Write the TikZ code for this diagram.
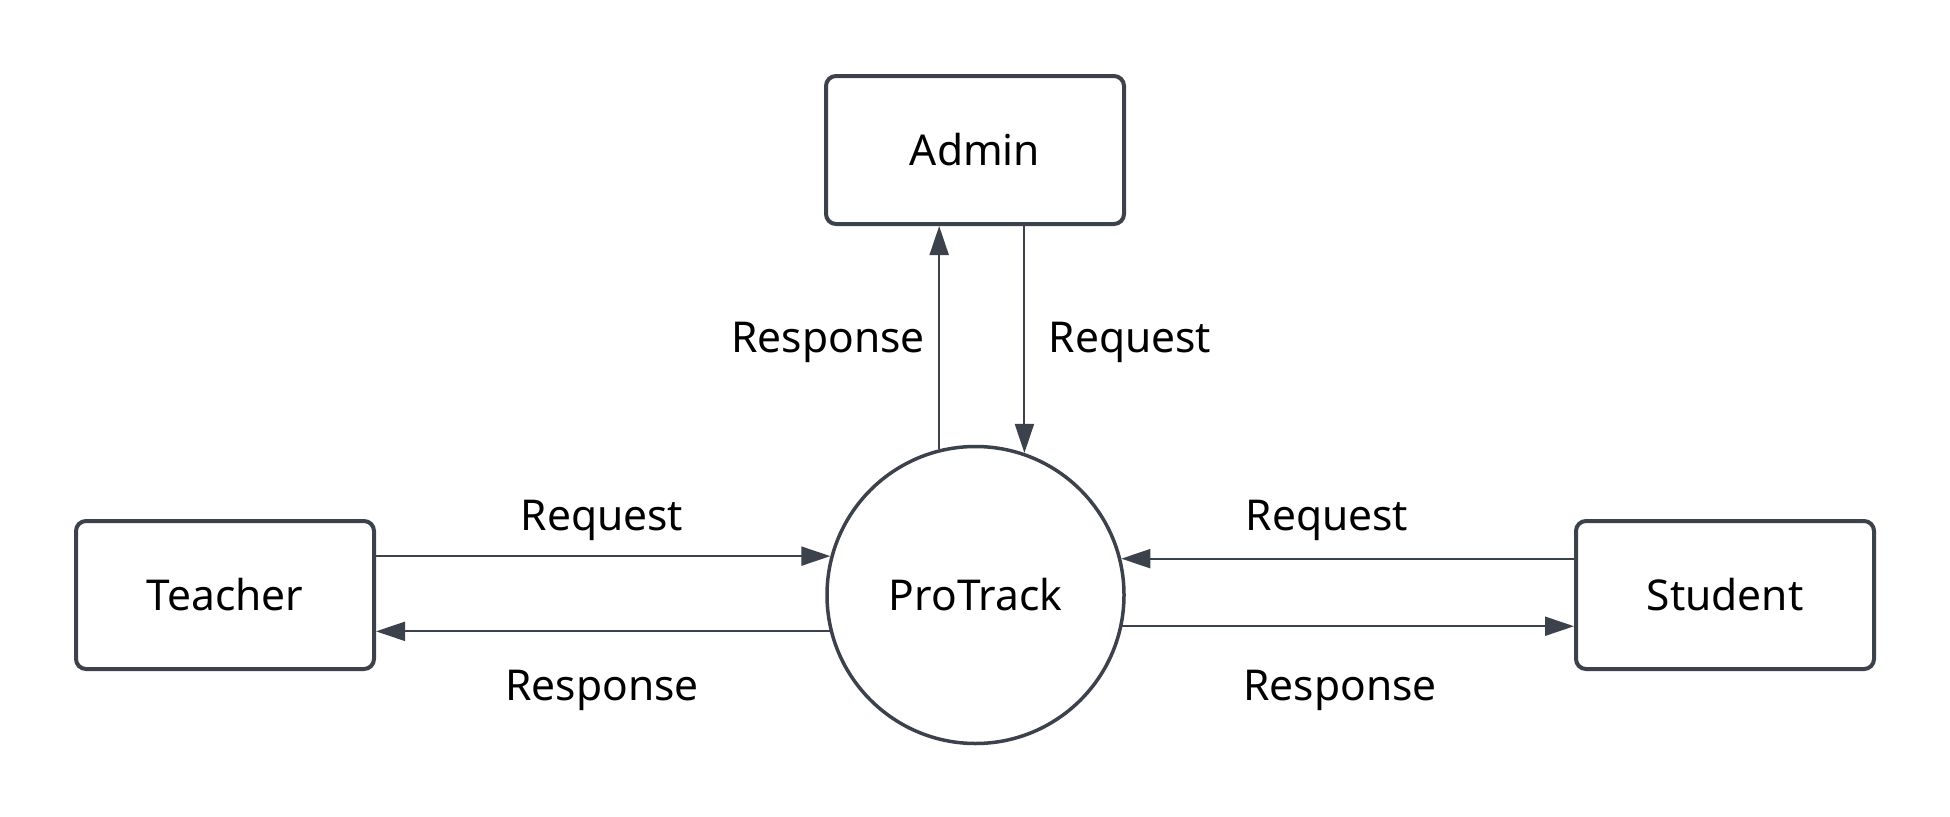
\documentclass[tikz,border=0pt]{standalone}
\usepackage{fontspec}
\setmainfont{Noto Sans}
\usetikzlibrary{arrows.meta}
\definecolor{edge}{HTML}{3C424B}
\begin{document}
\begin{tikzpicture}[x=1pt,y=-1pt,
  every node/.style={font=\fontsize{42.5}{50}\selectfont, text=black},
  box/.style={draw=edge, line width=4pt, rounded corners=10pt, minimum width=298pt, minimum height=148pt, inner sep=0pt},
  proc/.style={draw=edge, line width=3.5pt, circle, minimum size=297pt, inner sep=0pt},
  flow/.style={draw=edge, line width=2pt, -{Triangle[length=29pt,width=19pt]}},
  lbl/.style={anchor=base, inner sep=0pt}]
\useasboundingbox (0,0) rectangle (1950,816);
\node[box] (admin) at (975,150) {Admin};
\node[box] (teacher) at (225,595) {Teacher};
\node[box] (student) at (1725,595) {Student};
\node[proc] (pt) at (975.5,595) {ProTrack};
% teacher
\draw[flow] (teacher.east |- pt.165) -- (pt.165);
\draw[flow] (pt.194) -- (teacher.east |- pt.194);
% student
\draw[flow] (student.west |- pt.14) -- (pt.14);
\draw[flow] (pt.348) -- (student.west |- pt.348);
% admin
\draw[flow] (pt.104) -- (pt.104 |- admin.south);
\draw[flow] (pt.71 |- admin.south) -- (pt.71);
% labels
\node[lbl] (l1) at (602,530) {Request};
\node[lbl] (l2) at (602,700) {Response};
\node[lbl] (l3) at (1327,530) {Request};
\node[lbl] (l4) at (1340,700) {Response};
\node[lbl] (l5) at (828,352) {Response};
\node[lbl] (l6) at (1130,352) {Request};
\end{tikzpicture}
\end{document}
